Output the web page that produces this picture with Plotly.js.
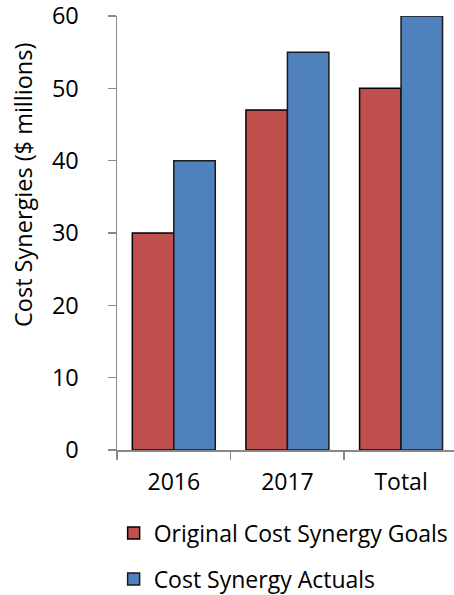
<!DOCTYPE html>
<html>
<head>
<meta charset="utf-8">
<script src="https://cdn.plot.ly/plotly-3.0.1.min.js"></script>
<style>html,body{margin:0;padding:0;background:#fff;}#chart{width:454px;height:595px;}</style>
</head>
<body>
<div id="chart"></div>
<script>
const categories = ["2016", "2017", "Total"];
const goals = [30, 47, 50];
const actuals = [40, 55, 60];
const seriesNames = ["Original Cost Synergy Goals", "Cost Synergy Actuals"];
const yTicks = [0, 10, 20, 30, 40, 50, 60];
const yTitle = "Cost Synergies ($ millions)";

const FONT = "Open Sans, sans-serif";
const traces = [
  {type: "bar", x: categories, y: goals, name: seriesNames[0], legendgroup: "g1",
   marker: {color: "#C0504D", line: {color: "#000000", width: 1.5}}},
  {type: "bar", x: categories, y: actuals, name: seriesNames[1], legendgroup: "g2",
   marker: {color: "#4F81BD", line: {color: "#1a1a1a", width: 1.5}}}
];
const layout = {
  width: 454, height: 595,
  margin: {l: 117, r: 0, t: 16, b: 145, autoexpand: false},
  paper_bgcolor: "#ffffff", plot_bgcolor: "#ffffff",
  font: {family: FONT, color: "#000000", size: 20},
  barmode: "group", bargap: 0.27, bargroupgap: 0,
  showlegend: true,
  legend: {orientation: "v", x: -0.01, xanchor: "left", y: -0.142, yanchor: "top",
           font: {family: FONT, size: 23, color: "#000"}, tracegroupgap: 13,
           itemwidth: 30, bgcolor: "rgba(0,0,0,0)"},
  xaxis: {type: "category", range: [-0.5, 2.466], tickson: "boundaries",
          ticks: "outside", ticklen: 8, tickcolor: "#888", tickwidth: 1.5,
          showline: true, linecolor: "#888", linewidth: 1.5, showgrid: false,
          tickfont: {family: FONT, size: 23}, ticklabelstandoff: 11, fixedrange: true},
  yaxis: {range: [0, 60], tickvals: yTicks, ticks: "outside", ticklen: 8,
          tickcolor: "#888", tickwidth: 1.5, showline: true, linecolor: "#888", linewidth: 1.5,
          showgrid: false, zeroline: false, tickfont: {family: FONT, size: 23.5},
          ticklabelstandoff: 24, ticklabeloverflow: "allow",
          fixedrange: true},
  annotations: [{text: yTitle, xref: "paper", yref: "paper",
                 x: (23 - 117) / 337, y: 1 - (185 - 16) / 434, xanchor: "center", yanchor: "middle",
                 textangle: -90, showarrow: false, font: {family: FONT, size: 23.5, color: "#000"}}]
};
Plotly.newPlot("chart", traces, layout, {displayModeBar: false, staticPlot: true});
</script>
</body>
</html>
